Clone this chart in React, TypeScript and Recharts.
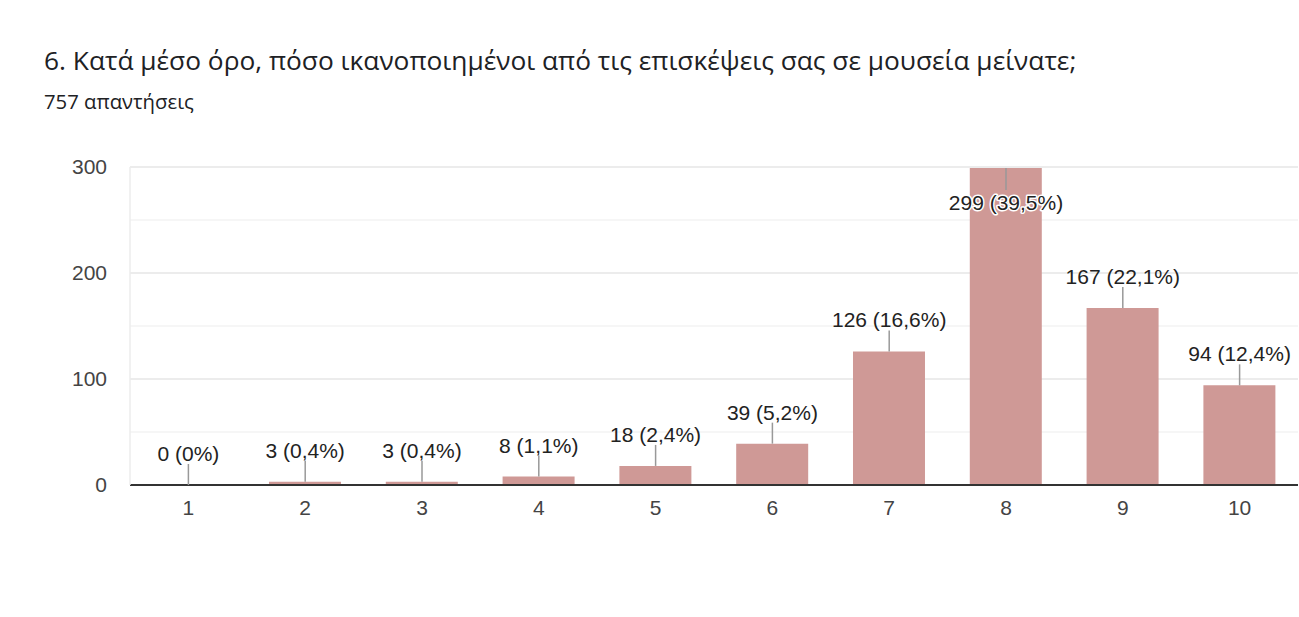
import React from "react";
import { ComposedChart, Bar, Line, XAxis, YAxis, CartesianGrid } from "recharts";

const categories = ["1", "2", "3", "4", "5", "6", "7", "8", "9", "10"];
const counts = [0, 3, 3, 8, 18, 39, 126, 299, 167, 94];
const percents = ["0%", "0,4%", "0,4%", "1,1%", "2,4%", "5,2%", "16,6%", "39,5%", "22,1%", "12,4%"];
const yTicks = [0, 100, 200, 300];
const minorGrid = [50, 150, 250];

const data = categories.map((c, i) => ({ name: c, value: counts[i], label: `${counts[i]} (${percents[i]})` }));

const FONT = "'Liberation Sans', Arial, sans-serif";

const LabelDot = (props: any) => {
  const { cx, cy, payload, index } = props;
  if (cx == null || cy == null) return null;
  const text = payload.label;
  const inside = cy < 215;
  if (inside) {
    return (
      <g key={`lbl-${index}`}>
        <line x1={cx} x2={cx} y1={cy} y2={cy + 22} stroke="#999" strokeWidth={1.5} />
        <text x={cx} y={cy + 42} textAnchor="middle" fontSize={21} fill="#222" fontFamily={FONT}
          stroke="#fff" strokeWidth={3} paintOrder="stroke" strokeLinejoin="round">{text}</text>
      </g>
    );
  }
  return (
    <g key={`lbl-${index}`}>
      <line x1={cx} x2={cx} y1={cy} y2={cy - 21} stroke="#999" strokeWidth={1.5} />
      <text x={cx} y={cy - 24} textAnchor="middle" fontSize={21} fill="#222" fontFamily={FONT}>{text}</text>
    </g>
  );
};

export default function App() {
  return (
    <div style={{ position: "absolute", left: 0, top: 0, width: 1299, height: 617, background: "#fff" }}>
      <div style={{ position: "absolute", left: 44, top: 42, fontSize: 26.3, color: "#202124", fontFamily: "'Open Sans', Roboto, sans-serif", whiteSpace: "nowrap" }}>
        6. Κατά μέσο όρο, πόσο ικανοποιημένοι από τις επισκέψεις σας σε μουσεία μείνατε;
      </div>
      <div style={{ position: "absolute", left: 44, top: 87, fontSize: 20.3, color: "#202124", fontFamily: "'Open Sans', Roboto, sans-serif", whiteSpace: "nowrap" }}>
        757 απαντήσεις
      </div>
      <div style={{ position: "absolute", left: 0, top: 0 }}>
        <ComposedChart width={1299} height={617} data={data} margin={{ top: 167, right: 1, left: 0, bottom: 102 }} barCategoryGap="19%">
          <CartesianGrid vertical={false} horizontalValues={minorGrid} stroke="#f3f3f3" strokeWidth={1.5} />
          <CartesianGrid vertical={false} horizontalValues={yTicks} stroke="#e6e6e6" strokeWidth={1.5} />
          <XAxis dataKey="name" axisLine={{ stroke: "#333", strokeWidth: 2 }} tickLine={false}
            tick={{ fill: "#444", fontSize: 21, fontFamily: FONT }} height={30} tickMargin={9} />
          <YAxis width={130} domain={[0, 300]} ticks={yTicks} axisLine={{ stroke: "#ececec", strokeWidth: 1.5 }} tickLine={false}
            tick={{ fill: "#444", fontSize: 21, fontFamily: FONT }} tickMargin={17} />
          <Bar dataKey="value" fill="#cf9996" isAnimationActive={false} />
          <Line dataKey="value" stroke="none" isAnimationActive={false} dot={LabelDot} activeDot={false} legendType="none" />
        </ComposedChart>
      </div>
    </div>
  );
}
